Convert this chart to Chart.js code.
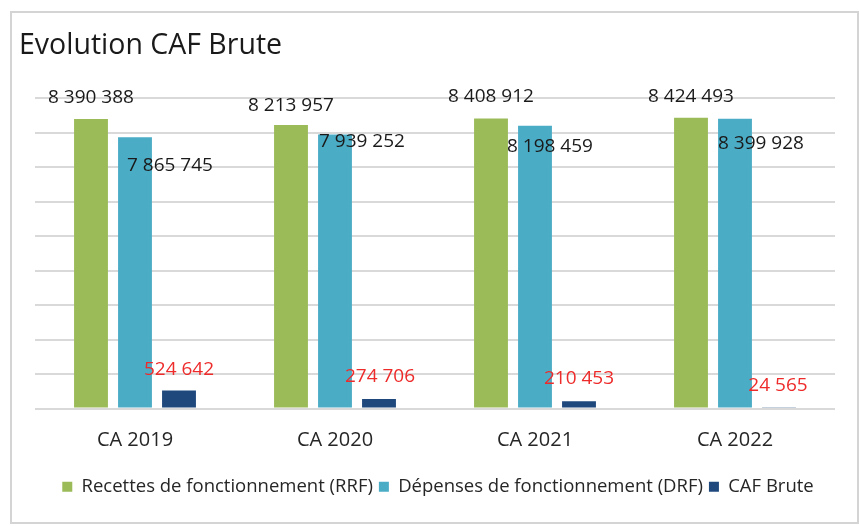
<!DOCTYPE html>
<html>
<head>
<meta charset="utf-8">
<script src="https://cdn.jsdelivr.net/npm/chart.js@4/dist/chart.umd.min.js"></script>
<style>
  html, body { margin: 0; padding: 0; background: #ffffff; }
  #wrap { position: relative; width: 859px; height: 526px; }
  #frame { position: absolute; left: 10px; top: 11px; width: 845px; height: 509px; border: 2px solid #d4d4d4; box-sizing: content-box; pointer-events: none; }
  canvas { position: absolute; left: 0; top: 0; }
</style>
</head>
<body>
<div id="wrap">
  <canvas id="c" width="859" height="526"></canvas>
  <div id="frame"></div>
</div>
<script>
// ---- Data ----
const categories = ['CA 2019', 'CA 2020', 'CA 2021', 'CA 2022'];
const seriesNames = ['Recettes de fonctionnement (RRF)', 'Dépenses de fonctionnement (DRF)', 'CAF Brute'];
const rrf = [8390388, 8213957, 8408912, 8424493];
const drf = [7865745, 7939252, 8198459, 8399928];
const cafBrute = [524642, 274706, 210453, 24565];
const yMax = 9000000;
const yStep = 1000000;
const chartTitle = 'Evolution CAF Brute';

// ---- Styles ----
const colors = ['#9BBB59', '#4BACC6', '#1F497D'];
const FONT = '"Open Sans", sans-serif';
const labelStyles = [
  { color: '#1a1a1a', offsets: [[0, -21], [0, -20], [0, -22], [0, -21]] },
  { color: '#1a1a1a', offsets: [[35, 28], [27, 7], [15, 21], [26, 25]] },
  { color: '#EE2B2B', offsets: [[0, -21], [1, -22], [0, -23], [-1, -22]] }
];
const legendShift = 11;

function fmt(v) {
  return String(v).replace(/\B(?=(\d{3})+(?!\d))/g, ' ');
}

const valueLabels = {
  id: 'valueLabels',
  afterLayout(chart) {
    if (chart.legend) {
      chart.legend.left += legendShift;
      chart.legend.right += legendShift;
    }
  },
  afterDatasetsDraw(chart) {
    const ctx = chart.ctx;
    ctx.save();
    ctx.font = '19px ' + FONT;
    ctx.textAlign = 'center';
    ctx.textBaseline = 'middle';
    chart.data.datasets.forEach((ds, di) => {
      const meta = chart.getDatasetMeta(di);
      const st = labelStyles[di];
      meta.data.forEach((bar, i) => {
        const off = st.offsets[i];
        ctx.fillStyle = st.color;
        ctx.fillText(fmt(ds.data[i]), bar.x + off[0], bar.y + off[1]);
      });
    });
    ctx.restore();
  }
};

const seriesData = [rrf, drf, cafBrute];

new Chart(document.getElementById('c'), {
  type: 'bar',
  data: {
    labels: categories,
    datasets: seriesNames.map((name, i) => ({
      label: name,
      data: seriesData[i],
      backgroundColor: colors[i],
      borderWidth: 0,
      categoryPercentage: 0.66,
      barPercentage: 0.77
    }))
  },
  options: {
    responsive: false,
    animation: false,
    devicePixelRatio: 1,
    layout: { padding: { left: 19, right: 24, top: 12, bottom: 20 } },
    scales: {
      x: {
        grid: { display: false, drawTicks: false },
        border: { display: false },
        ticks: { color: '#262626', font: { family: FONT, size: 20 }, padding: 20 },
        afterFit: s => { s.height = 63; }
      },
      y: {
        min: 0,
        max: yMax,
        ticks: { display: false, stepSize: yStep },
        grid: { color: '#d9d9d9', lineWidth: 2, drawTicks: false },
        border: { display: false },
        afterFit: s => { s.width = 16; }
      }
    },
    plugins: {
      title: {
        display: true,
        text: chartTitle,
        align: 'start',
        color: '#1a1a1a',
        font: { family: FONT, size: 28.5, weight: 'normal' },
        padding: { top: 17, bottom: 34.8 }
      },
      legend: {
        position: 'bottom',
        labels: {
          color: '#262626',
          font: { family: FONT, size: 18.5 },
          boxWidth: 10,
          boxHeight: 10,
          padding: 6
        }
      },
      tooltip: { enabled: false }
    }
  },
  plugins: [valueLabels]
});
</script>
</body>
</html>
